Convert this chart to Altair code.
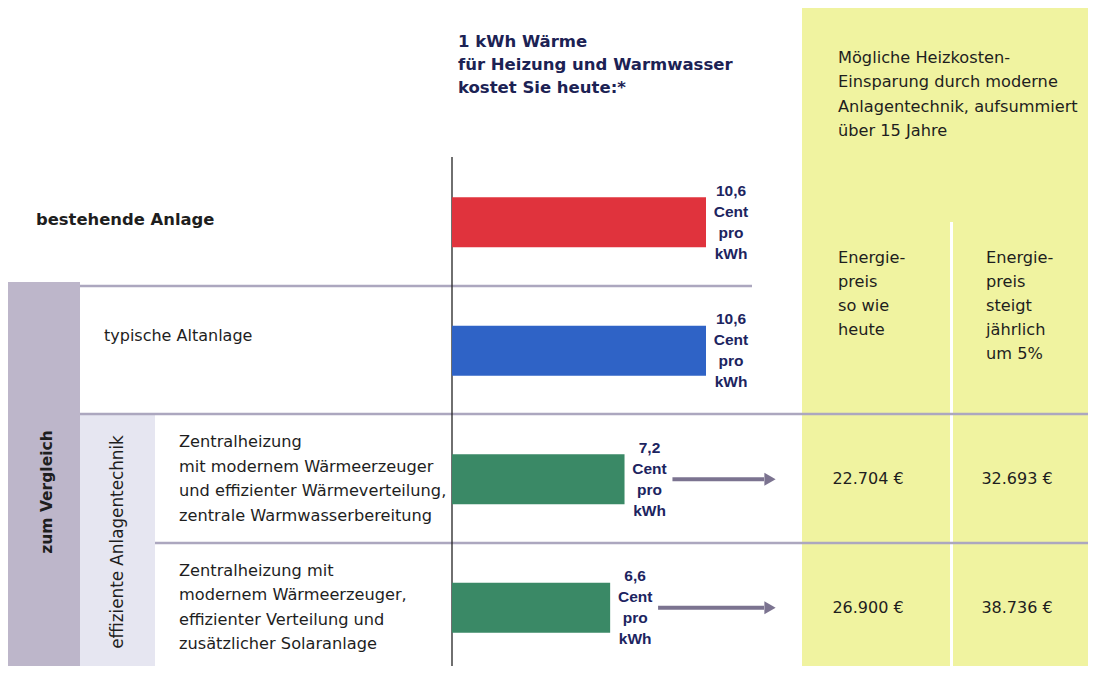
import altair as alt
import pandas as pd

# ---------------- data ----------------
row_ids = ["r1", "r2", "r3", "r4"]
row_labels = [
    "bestehende Anlage",
    "typische Altanlage",
    "Zentralheizung\nmit modernem Wärmeerzeuger\nund effizienter Wärmeverteilung,\nzentrale Warmwasserbereitung",
    "Zentralheizung mit\nmodernem Wärmeerzeuger,\neffizienter Verteilung und\nzusätzlicher Solaranlage",
]
cents_per_kwh = [10.6, 10.6, 7.2, 6.6]
bar_colors = ["#e0333d", "#2f63c6", "#3a8966", "#3a8966"]

saving_rows = ["r3", "r4"]
saving_today = [22704, 26900]        # Energiepreis so wie heute
saving_rising = [32693, 38736]       # Energiepreis steigt jährlich um 5%

title_left = "1 kWh Wärme\nfür Heizung und Warmwasser\nkostet Sie heute:*"
title_right = "Mögliche Heizkosten-\nEinsparung durch moderne\nAnlagentechnik, aufsummiert\nüber 15 Jahre"
col_today = "Energie-\npreis\nso wie\nheute"
col_rising = "Energie-\npreis\nsteigt\njährlich\num 5%"
group_outer = "zum Vergleich"
group_inner = "effiziente Anlagentechnik"

# ---------------- tables ----------------
df = pd.DataFrame({"row": row_ids, "label": row_labels, "cents": cents_per_kwh})
df["cent_label"] = df["cents"].map(lambda v: f"{v:.1f}".replace(".", ",") + "\nCent\npro\nkWh")


def euro(v):
    return f"{v:,}".replace(",", ".") + " €"


sav = pd.DataFrame({
    "row": saving_rows,
    "today": [euro(v) for v in saving_today],
    "rising": [euro(v) for v in saving_rising],
    "cents": [c for r, c in zip(row_ids, cents_per_kwh) if r in saving_rows],
})

FONT = "DejaVu Sans"
dummy = pd.DataFrame({"k": [0]})

xs = alt.Scale(domain=[0, 10.6], range=[444, 698])
ys = alt.Scale(type="band", domain=row_ids, range=[150, 664], paddingInner=0.611, paddingOuter=0.3055)
Y = alt.Y("row:N", scale=ys, axis=None)


def rect(x, x2, y, y2, color):
    return alt.Chart(dummy).mark_rect(color=color).encode(
        x=alt.value(x), x2=alt.value(x2), y=alt.value(y), y2=alt.value(y2))


def hline(x, x2, y, color="#aca7bf", w=2.5):
    return alt.Chart(dummy).mark_rule(color=color, strokeWidth=w).encode(
        x=alt.value(x), x2=alt.value(x2), y=alt.value(y))


def text(x, y, s, size=16.2, weight="normal", color="#1e1e1e", lh=24, align="left", angle=0):
    return alt.Chart(dummy).mark_text(
        align=align, baseline="middle", lineBreak="\n", font=FONT, fontSize=size,
        fontWeight=weight, color=color, lineHeight=lh, angle=angle,
    ).encode(x=alt.value(x), y=alt.value(y), text=alt.value(s))


decor = [
    rect(794, 1080, 0, 666, "#f0f3a0"),
    rect(942, 945, 214, 666, "#ffffff"),
    rect(0, 72, 274, 666, "#bdb6ca"),
    rect(72, 147, 406, 660, "#e6e6f1"),
    hline(72, 744, 278),
    hline(72, 1080, 406),
    hline(147, 1080, 535),
    hline(0, 1080, 660),
]

zero_line = alt.Chart(dummy).mark_rule(color="#222222", strokeWidth=1.3).encode(
    x=alt.X(datum=0, scale=xs, axis=None), y=alt.value(149), y2=alt.value(666))

bars = alt.Chart(df).mark_bar().encode(
    x=alt.X("cents:Q", scale=xs, axis=None),
    x2=alt.X2(datum=0),
    y=Y,
    color=alt.Color("row:N", scale=alt.Scale(domain=row_ids, range=bar_colors), legend=None),
)

# multi-line texts: first line sits on y, so shift up by half the block height
cent_text = alt.Chart(df).mark_text(
    align="center", baseline="middle", lineBreak="\n", font="Liberation Sans", fontSize=15.5,
    fontWeight="bold", color="#1c2460", lineHeight=21, dx=25, dy=-31.5,
).encode(x=alt.X("cents:Q", scale=xs, axis=None), y=Y, text="cent_label:N")


def cat_text(rows, x, weight="normal", dy=0, size=16.2):
    return alt.Chart(df).transform_filter(
        alt.FieldOneOfPredicate(field="row", oneOf=rows)
    ).mark_text(
        align="left", baseline="middle", lineBreak="\n", font=FONT, fontSize=size,
        fontWeight=weight, color="#1e1e1e", lineHeight=24.5, dy=dy,
    ).encode(x=alt.value(x), y=Y, text="label:N")


cats = [
    cat_text(["r1"], 28, "bold", dy=-2, size=16.4),
    cat_text(["r2"], 96, dy=-15, size=16),
    cat_text(["r3", "r4"], 171, dy=-37),
]

arrow_color = "#7b7390"
arrows = alt.Chart(sav).transform_calculate(start="datum.cents + 2.0").mark_rule(
    color=arrow_color, strokeWidth=4
).encode(x=alt.X("start:Q", scale=xs, axis=None), x2=alt.value(756), y=Y)

heads = alt.Chart(sav).mark_point(
    shape="triangle-right", filled=True, size=170, color=arrow_color, opacity=1
).encode(x=alt.value(762), y=Y)

sav_today = alt.Chart(sav).mark_text(
    align="center", baseline="middle", font=FONT, fontSize=16, color="#1e1e1e"
).encode(x=alt.value(860), y=Y, text="today:N")

sav_rising = alt.Chart(sav).mark_text(
    align="center", baseline="middle", font=FONT, fontSize=16, color="#1e1e1e"
).encode(x=alt.value(1009), y=Y, text="rising:N")

texts = [
    text(450, 34, title_left, size=16.5, weight="bold", color="#1c2254", lh=23),
    text(830, 50, title_right, lh=24.3),
    text(830, 250, col_today, lh=24),
    text(978, 250, col_rising, lh=24),
    text(39, 484, group_outer, size=15.5, weight="bold", align="center", angle=270),
    text(110, 534, group_inner, size=16.8, align="center", angle=270),
]

chart = alt.layer(
    *decor, zero_line, bars, cent_text, *cats, arrows, heads, sav_today, sav_rising, *texts
).properties(
    width=1080, height=658, autosize="none", padding=0, background="white"
).configure_view(strokeWidth=0)

chart.save("out.html", embed_options={"renderer": "svg", "actions": False})
